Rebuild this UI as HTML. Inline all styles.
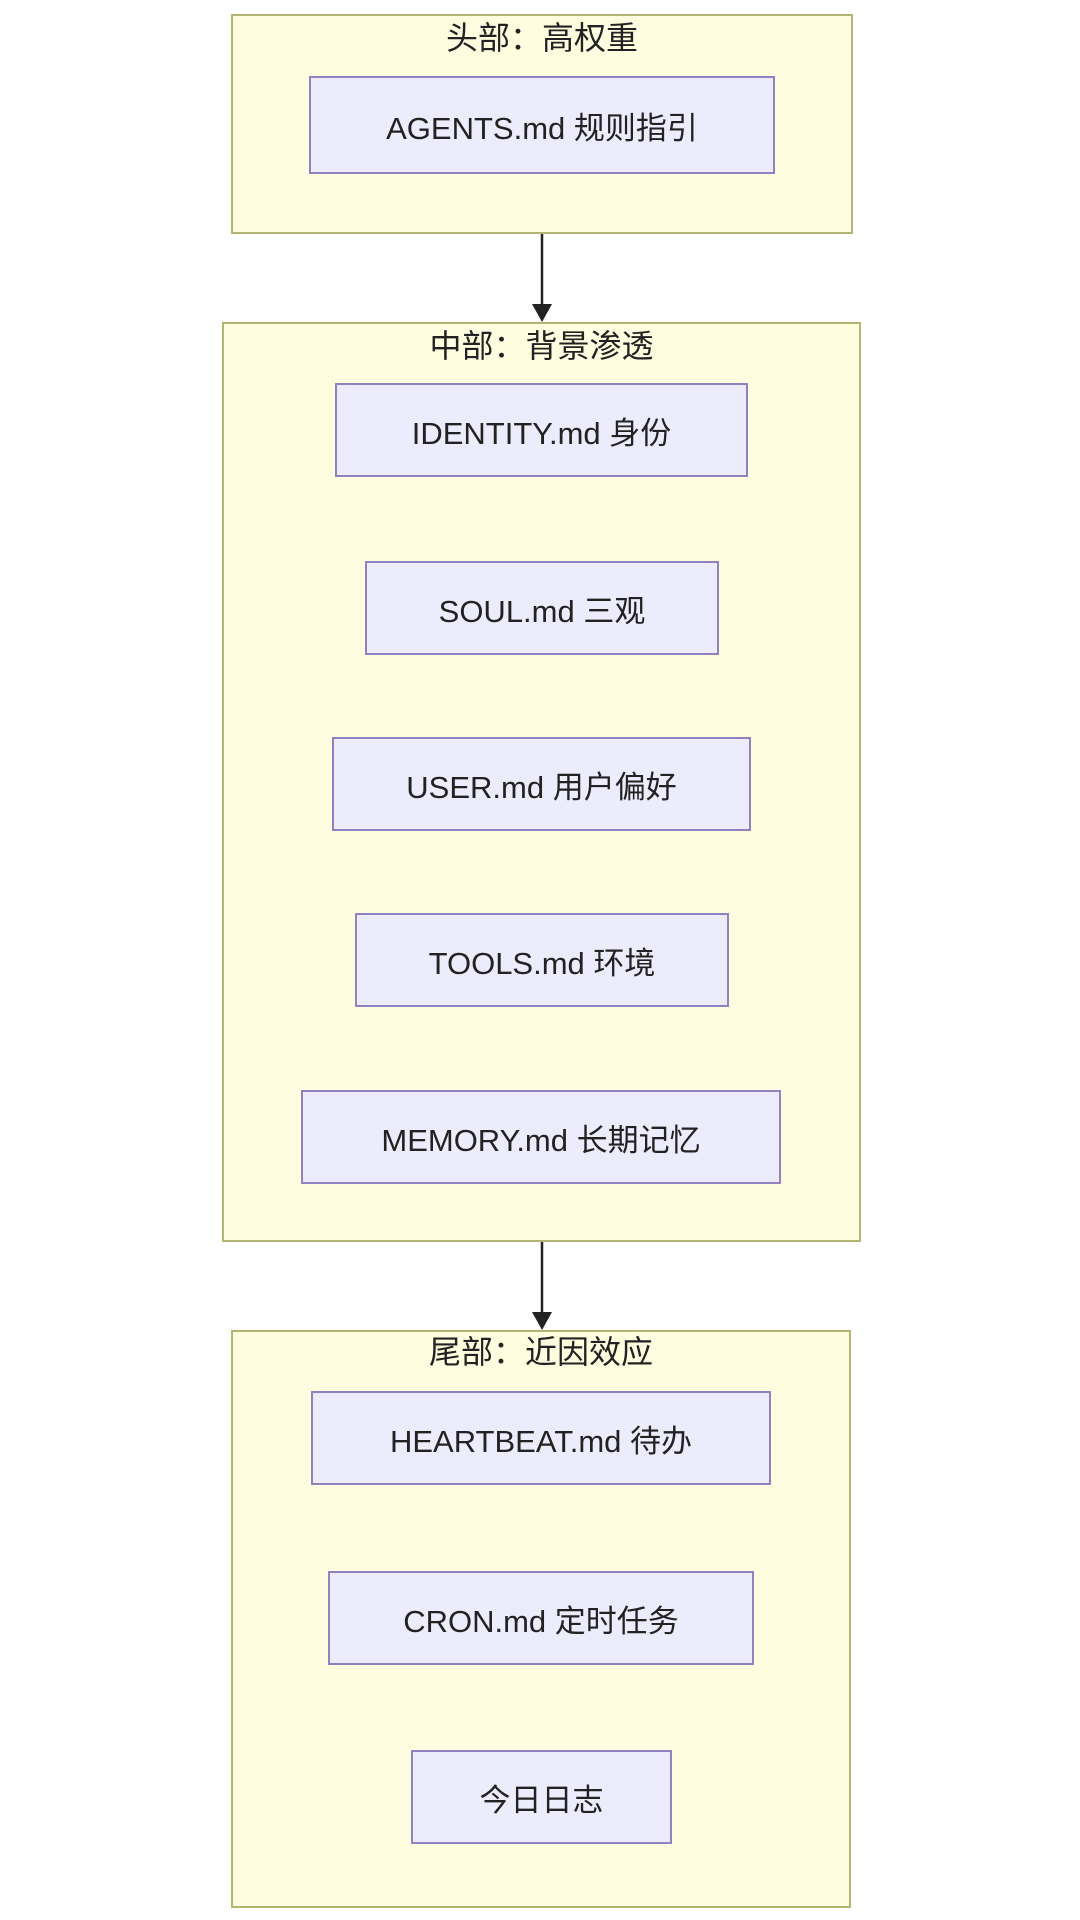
<!DOCTYPE html>
<html><head><meta charset="utf-8">
<style>
html,body{margin:0;padding:0;background:#fff;}
body{width:1080px;height:1920px;position:relative;overflow:hidden;font-family:"Liberation Sans","Noto Sans CJK SC",sans-serif;color:#222;}
.g{position:absolute;background:#fffde0;border:2px solid #b5b572;box-sizing:border-box;}
.t{position:absolute;left:0;right:0;text-align:center;font-size:32px;line-height:40px;}
.n{position:absolute;background:#ececfd;border:2px solid #9282c2;box-sizing:border-box;display:flex;align-items:center;justify-content:center;font-size:31px;}
</style></head><body>
<div class="g" style="left:231px;top:14px;width:622px;height:220px;"><div class="t" style="top:2px;">头部：高权重</div></div>
<div class="n" style="left:309px;top:76px;width:466px;height:98px;">AGENTS.md 规则指引</div>

<div class="g" style="left:222px;top:322px;width:639px;height:920px;"><div class="t" style="top:2px;">中部：背景渗透</div></div>
<div class="n" style="left:335px;top:383px;width:413px;height:94px;">IDENTITY.md 身份</div>
<div class="n" style="left:365px;top:561px;width:354px;height:94px;">SOUL.md 三观</div>
<div class="n" style="left:332px;top:737px;width:419px;height:94px;">USER.md 用户偏好</div>
<div class="n" style="left:355px;top:913px;width:374px;height:94px;">TOOLS.md 环境</div>
<div class="n" style="left:301px;top:1090px;width:480px;height:94px;">MEMORY.md 长期记忆</div>

<div class="g" style="left:231px;top:1330px;width:620px;height:578px;"><div class="t" style="top:0px;">尾部：近因效应</div></div>
<div class="n" style="left:311px;top:1391px;width:460px;height:94px;">HEARTBEAT.md 待办</div>
<div class="n" style="left:328px;top:1571px;width:426px;height:94px;">CRON.md 定时任务</div>
<div class="n" style="left:411px;top:1750px;width:261px;height:94px;">今日日志</div>

<svg width="1080" height="1920" style="position:absolute;left:0;top:0;">
<line x1="542" y1="234" x2="542" y2="306" stroke="#222" stroke-width="2.5"/>
<polygon points="532,304 552,304 542,322" fill="#222"/>
<line x1="542" y1="1242" x2="542" y2="1314" stroke="#222" stroke-width="2.5"/>
<polygon points="532,1312 552,1312 542,1330" fill="#222"/>
</svg>
</body></html>
